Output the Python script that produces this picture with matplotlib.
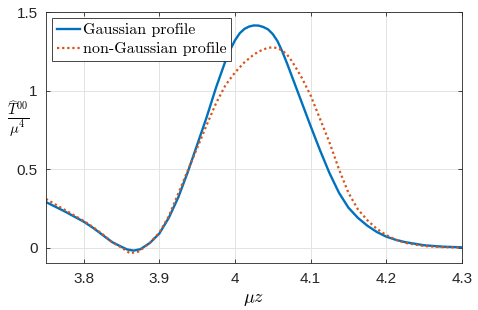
import numpy as np
import matplotlib
matplotlib.use("Agg")
import matplotlib.pyplot as plt

# values
gauss_z = [3.75, 3.775, 3.80, 3.8125, 3.825, 3.8375, 3.85, 3.8575, 3.866, 3.875,
           3.8875, 3.90, 3.9125, 3.925, 3.9375, 3.95, 3.9625, 3.975, 3.9875,
           3.99375, 4.0, 4.00625, 4.0125, 4.01875, 4.025, 4.03125, 4.0375,
           4.04375, 4.05, 4.05625, 4.0625, 4.06875, 4.075, 4.0875, 4.10, 4.1125,
           4.125, 4.1375, 4.15, 4.1625, 4.175, 4.1875, 4.20, 4.2125, 4.225,
           4.25, 4.275, 4.30]
gauss = [0.29, 0.23, 0.165, 0.125, 0.08, 0.035, 0.005, -0.012, -0.019, -0.01,
         0.03, 0.09, 0.19, 0.32, 0.48, 0.655, 0.83, 1.02, 1.19,
         1.26, 1.32, 1.365, 1.393, 1.408, 1.415, 1.414, 1.405,
         1.39, 1.36, 1.315, 1.25, 1.175, 1.095, 0.935, 0.775, 0.62,
         0.475, 0.35, 0.255, 0.19, 0.14, 0.10, 0.07, 0.05, 0.035,
         0.015, 0.006, 0.002]

non_gauss_z = [3.75, 3.775, 3.80, 3.8125, 3.825, 3.8375, 3.85, 3.861, 3.8725,
               3.8875, 3.90, 3.9125, 3.925, 3.9375, 3.95, 3.9625, 3.975, 3.9875,
               4.0, 4.0125, 4.025, 4.03125, 4.0375, 4.04375, 4.05, 4.05625,
               4.0625, 4.06875, 4.075, 4.0875, 4.10, 4.1125, 4.125, 4.1375, 4.15,
               4.1625, 4.175, 4.1875, 4.20, 4.2125, 4.225, 4.25, 4.275, 4.30]
non_gauss = [0.31, 0.24, 0.17, 0.13, 0.085, 0.035, 0.0, -0.036, -0.025,
             0.03, 0.095, 0.20, 0.345, 0.49, 0.635, 0.78, 0.92, 1.035,
             1.115, 1.18, 1.23, 1.248, 1.262, 1.272, 1.276, 1.27,
             1.255, 1.23, 1.19, 1.09, 0.97, 0.82, 0.67, 0.50, 0.35,
             0.245, 0.175, 0.12, 0.08, 0.05, 0.03, 0.01, 0.003, 0.0]

xticks = [3.8, 3.9, 4.0, 4.1, 4.2, 4.3]
xticklabels = ["3.8", "3.9", "4", "4.1", "4.2", "4.3"]
yticks = [0, 0.5, 1, 1.5]
yticklabels = ["0", "0.5", "1", "1.5"]

plt.rcParams["font.family"] = "Liberation Sans"
plt.rcParams["mathtext.fontset"] = "cm"

fig = plt.figure(figsize=(4.78, 3.10), dpi=100)
ax = fig.add_axes([0.0962, 0.1506, 0.8698, 0.8104])

ax.plot(gauss_z, gauss, color="#0072BD", lw=1.7, label="Gaussian profile",
        solid_joinstyle="round")
ax.plot(non_gauss_z, non_gauss, color="#D95319", lw=1.6, ls=(0, (1, 1.3)),
        label="non-Gaussian profile")

ax.set_xlim(3.75, 4.3)
ax.set_ylim(-0.1, 1.5)
ax.set_xticks(xticks)
ax.set_xticklabels(xticklabels)
ax.set_yticks(yticks)
ax.set_yticklabels(yticklabels)
ax.tick_params(direction="in", length=3, width=0.6, labelsize=11,
               colors="#262626", top=True, right=True, pad=6)
ax.grid(True, color="#e3e3e3", lw=0.7)
ax.set_axisbelow(True)
for s in ax.spines.values():
    s.set_color("#262626")
    s.set_linewidth(0.6)

ax.set_xlabel(r"$\mu z$", fontsize=13, labelpad=4)
ax.set_ylabel(r"$\frac{\widehat{T}^{00}}{\mu^4}$", fontsize=15, rotation=0,
              va="center", ha="center")
ax.yaxis.set_label_coords(-0.067, 0.575)

leg = ax.legend(loc="upper left", prop={"family": "cmr10", "size": 11.5},
                fancybox=False, edgecolor="#262626", framealpha=1,
                handlelength=1.4, handletextpad=0.2, borderpad=0.3,
                labelspacing=0.3, borderaxespad=0.4)
leg.get_frame().set_linewidth(0.6)

fig.savefig("out.png", dpi=100)
plt.close(fig)
